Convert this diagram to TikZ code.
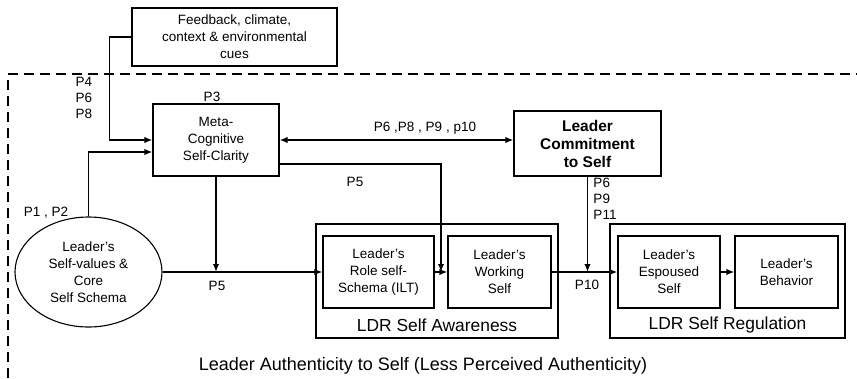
\documentclass[tikz,border=0pt]{standalone}
\usepackage{fontspec}
\setmainfont{Liberation Sans}
\usetikzlibrary{arrows.meta,shapes.geometric,calc}

\begin{document}
\begin{tikzpicture}[x=1pt,y=-1pt,
  box/.style={draw, line width=1.1pt, inner sep=0pt, align=center,
    font=\fontsize{13.5}{17}\selectfont},
  frame/.style={draw, line width=1.1pt, inner sep=0pt},
  conn/.style={line width=1.8pt},
  tip/.tip={Latex[length=8pt,width=6.5pt]},
  arr/.style={conn, -tip},
  lbl/.style={inner sep=0pt, align=left, font=\fontsize{13.5}{16}\selectfont},
  biglbl/.style={inner sep=0pt, font=\fontsize{17.4}{20}\selectfont}]

\useasboundingbox (0,0) rectangle (857,378);

% outer dashed boundary (only its top and left sides lie in view)
\draw[line width=2.6pt, dash pattern=on 10pt off 6pt] (8,378) -- (8,74) -- (857,74);

% boxes
\node[box, minimum width=205pt, minimum height=58pt] (fb) at (234.5,37)
  {Feedback, climate,\\context \& environmental\\cues};
\node[box, minimum width=126pt, minimum height=72pt] (meta) at (216,140)
  {Meta-\\Cognitive\\Self-Clarity};
\node[box, minimum width=147pt, minimum height=65pt,
  font=\bfseries\fontsize{15.5}{18}\selectfont] (com) at (587.5,143.5)
  {Leader\\Commitment\\to Self};
\node[box, ellipse, minimum width=147pt, minimum height=110pt] (ell) at (88.5,272)
  {Leader's\\Self-values \&\\Core\\Self Schema};

\node[frame, minimum width=242pt, minimum height=114pt] (aware) at (437,281) {};
\node[box, minimum width=111pt, minimum height=72pt] (role) at (378.5,272)
  {Leader's\\Role self-\\Schema (ILT)};
\node[box, minimum width=103pt, minimum height=72pt] (work) at (499.5,272)
  {Leader's\\Working\\Self};
\node[biglbl] (awarelbl) at (437,325) {LDR Self Awareness};

\node[frame, minimum width=235pt, minimum height=114pt] (reg) at (727.5,281) {};
\node[box, minimum width=102pt, minimum height=72pt] (esp) at (669,272)
  {Leader's\\Espoused\\Self};
\node[box, minimum width=103pt, minimum height=72pt] (beh) at (786.5,272)
  {Leader's\\Behavior};
\node[biglbl] (reglbl) at (727.5,325) {LDR Self Regulation};

\node[biglbl, font=\fontsize{18}{20}\selectfont] (title) at (423,366)
  {Leader Authenticity to Self (Less Perceived Authenticity)};

% connectors
\coordinate (rw) at ($(role.east)!0.5!(work.west)$);
\draw[arr] (fb.west) -- ++(-22,0) |- (meta.west);
\draw[arr] (ell.north) |- ($(meta.west)+(0,12)$);
\draw[conn, tip-tip] (meta.east) -- (meta.east -| com.west);
\draw[arr] ($(meta.east)+(0,24)$) -| (rw);
\draw[arr] (meta.south) -- (meta.south |- ell.east);
\draw[arr] (ell.east) -- (role.west);
\draw[arr] (role.east) -- (work.west);
\draw[arr] (work.east) -- (esp.west);
\draw[arr] (com.south) -- (com.south |- work.east);
\draw[arr] (esp.east) -- (beh.west);

% proposition labels
\node[lbl] (p468) at (84,98) {P4\\P6\\P8};
\node[lbl] (p3) at (212,97) {P3};
\node[lbl] (p12) at (46,213) {P1 , P2};
\node[lbl] (pcom) at (425,128) {P6 ,P8 , P9 , p10};
\node[lbl] (p5a) at (355,182) {P5};
\node[lbl] (p5b) at (217,286) {P5};
\node[lbl] (p6911) at (605,199) {P6\\P9\\P11};
\node[lbl] (p10) at (587,285) {P10};
\end{tikzpicture}
\end{document}
